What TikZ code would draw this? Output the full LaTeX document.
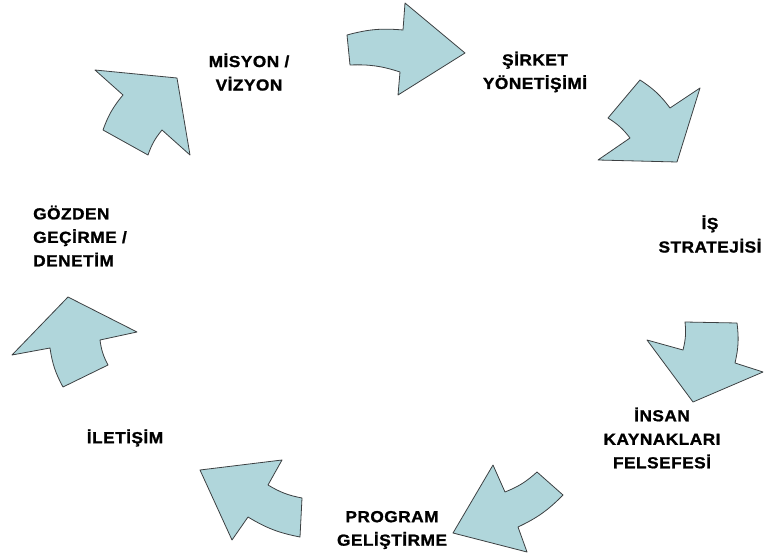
\documentclass[tikz,border=0pt]{standalone}
\usepackage{fontspec}
\newfontfamily\lblfont{Liberation Sans}[FakeStretch=1.08,LetterSpace=3,FakeBold=1.2]
\usetikzlibrary{positioning}

\definecolor{arrowfill}{RGB}{176,214,219}
\definecolor{arrowline}{RGB}{60,64,66}

\begin{document}
\begin{tikzpicture}[x=1pt,y=-1pt,
    ringarrow/.style={fill=arrowfill,draw=arrowline,line width=0.8pt,line join=round},
    lbl/.style={font=\lblfont\bfseries\fontsize{16}{23.5}\selectfont,inner sep=0pt,align=center},
    bend angle=10]
  \useasboundingbox (0,0) rectangle (765,556);
  % arrows, clockwise: tip, inner head, inner notch, inner tail, outer tail, outer notch, outer head
  \draw[ringarrow] (177,78) -- (190,155) -- (162,130) to[bend right] (148,155) -- (103,130) to[bend left] (123,95) -- (95,70) -- cycle;
  \draw[ringarrow] (465,53) -- (398,95) -- (400,72) to[bend right] (350,65) -- (347,35) to[bend left] (403,30) -- (405,3) -- cycle;
  \draw[ringarrow] (677,162) -- (598,160) -- (630,138) to[bend right] (608,118) -- (640,80) to[bend left] (670,108) -- (700,88) -- cycle;
  \draw[ringarrow] (693,402) -- (647,340) -- (683,350) to[bend right] (685,322) -- (737,323) to[bend left] (735,363) -- (763,372) -- cycle;
  \draw[ringarrow] (453,533) -- (493,465) -- (505,492) to[bend right] (537,472) -- (563,495) to[bend left] (518,527) -- (527,552) -- cycle;
  \draw[ringarrow] (200,470) -- (282,460) -- (268,485) to[bend right] (302,498) -- (300,537) to[bend left] (248,517) -- (232,540) -- cycle;
  \draw[ringarrow] (68,297) -- (137,332) -- (100,340) to[bend right] (108,365) -- (63,387) to[bend left] (50,348) -- (12,355) -- cycle;
  % labels
  \node[lbl] (misyon) at (249,72) {MİSYON /\\VİZYON};
  \node[lbl] (sirket) at (535,72) {ŞİRKET\\YÖNETİŞİMİ};
  \node[lbl] (strateji) at (710,234) {İŞ\\STRATEJİSİ};
  \node[lbl] (insan) at (662,438) {İNSAN\\KAYNAKLARI\\FELSEFESİ};
  \node[lbl] (program) at (392,530) {PROGRAM\\GELİŞTİRME};
  \node[lbl] (iletisim) at (125,438) {İLETİŞİM};
  \node[lbl,align=left,anchor=west] (gozden) at (33,236) {GÖZDEN\\GEÇİRME /\\DENETİM};
\end{tikzpicture}
\end{document}
